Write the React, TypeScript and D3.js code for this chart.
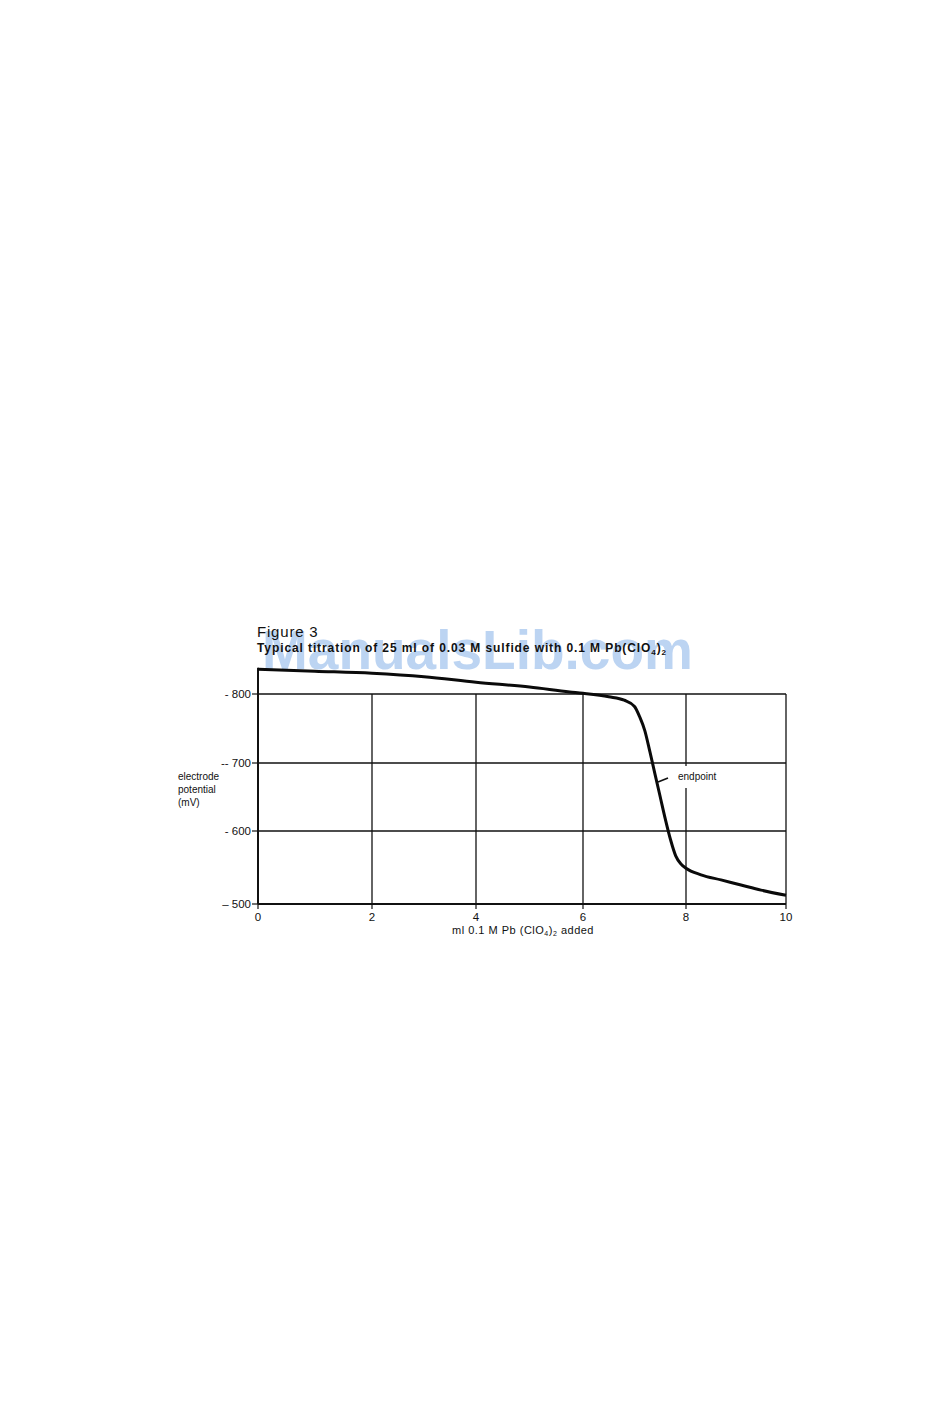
import React from "react";
import * as d3 from "d3";

const xTicks = [0, 2, 4, 6, 8, 10];
const yTicks = [-800, -700, -600, -500];
const yTickLabels = ["- 800", "-- 700", "- 600", "– 500"];

const volume = [0, 1, 2, 3, 4, 5, 5.75, 6, 6.5, 6.8, 7.0, 7.1, 7.2, 7.3, 7.4, 7.5, 7.6, 7.7, 7.8, 7.9, 8.0, 8.3, 8.7, 9.1, 9.5, 10];
const potential = [-836, -833, -830, -825, -817, -810, -803, -801, -796, -791, -782, -767, -747, -716, -683, -650, -617, -588, -566, -555, -549, -540, -533, -526, -519, -512];

const titleText = "Figure 3";
const subtitleText = "Typical titration of 25 ml of 0.03 M sulfide with 0.1 M Pb(ClO";
const xLabel = "ml 0.1 M Pb (ClO";
const yLabelLines = ["electrode", "potential", "(mV)"];
const annotation = "endpoint";
const watermark = "ManualsLib.com";

export default function App() {
  // scanned chart: tick spacing is slightly uneven, so use piecewise scales
  const x = d3.scaleLinear().domain(xTicks).range([258, 372, 476, 583, 686, 786]);
  const y = d3.scaleLinear().domain(yTicks).range([694, 763, 831, 904]);
  const x0 = x(0), x1 = x(10);
  const yTop = y(-800), yBot = y(-500);

  const line = d3
    .line<number>()
    .x((_, i) => x(volume[i]))
    .y((d) => y(d))
    .curve(d3.curveMonotoneX);

  const font = "'Liberation Sans', Arial, Helvetica, sans-serif";

  return (
    <svg
      width={950}
      height={1409}
      style={{ position: "absolute", left: 0, top: 0, background: "#fff" }}
      fontFamily={font}
    >
      <rect x={0} y={0} width={950} height={1409} fill="#fff" />
      {/* watermark */}
      <text x={262} y={669} fontSize={55} fontWeight="bold" fill="#bcd4f2">
        {watermark}
      </text>
      {/* titles */}
      <text x={257} y={637} fontSize={15} fill="#111" letterSpacing={0.8}>
        {titleText}
      </text>
      <text x={257} y={652} fontSize={12} fontWeight="bold" fill="#111" letterSpacing={0.9}>
        {subtitleText}
        <tspan fontSize={8} dy={3}>4</tspan>
        <tspan dy={-3}>)</tspan>
        <tspan fontSize={8} dy={3}>2</tspan>
      </text>

      {/* horizontal grid */}
      {yTicks.map((t) => (
        <line
          key={"h" + t}
          x1={x0}
          x2={x1}
          y1={y(t)}
          y2={y(t)}
          stroke="#111"
          strokeWidth={t === -500 ? 2.2 : 1.5}
        />
      ))}
      {/* vertical grid */}
      {xTicks.filter((t) => t > 0).map((t) => (
        <line
          key={"v" + t}
          x1={x(t)}
          x2={x(t)}
          y1={yTop}
          y2={yBot}
          stroke="#111"
          strokeWidth={1.3}
        />
      ))}
      {/* left axis */}
      <line x1={x0} x2={x0} y1={y(-838)} y2={yBot} stroke="#111" strokeWidth={2} />

      {/* y ticks and labels */}
      {yTicks.map((t, i) => (
        <g key={"yt" + t}>
          <line x1={x0 - 6} x2={x0} y1={y(t)} y2={y(t)} stroke="#111" strokeWidth={1.2} />
          <text x={x0 - 7} y={y(t) + 4} fontSize={11.5} textAnchor="end" fill="#111">
            {yTickLabels[i]}
          </text>
        </g>
      ))}
      {/* x ticks and labels */}
      {xTicks.map((t) => (
        <g key={"xt" + t}>
          <line x1={x(t)} x2={x(t)} y1={yBot} y2={yBot + 5} stroke="#111" strokeWidth={1.2} />
          <text x={x(t)} y={yBot + 17} fontSize={11.5} textAnchor="middle" fill="#111">
            {t}
          </text>
        </g>
      ))}
      <text x={523} y={934} fontSize={11} textAnchor="middle" fill="#111" letterSpacing={0.5}>
        {xLabel}
        <tspan fontSize={7} dy={2}>4</tspan>
        <tspan dy={-2}>)</tspan>
        <tspan fontSize={7} dy={2}>2</tspan>
        <tspan dy={-2}> added</tspan>
      </text>

      {/* y label */}
      {yLabelLines.map((s, i) => (
        <text key={s} x={178} y={780 + i * 13} fontSize={10} fill="#111">
          {s}
        </text>
      ))}

      {/* annotation */}
      <rect x={677} y={766} width={46} height={22} fill="#fff" />
      <text x={678} y={780} fontSize={10} fill="#111">
        {annotation}
      </text>
      <line x1={658} y1={782} x2={668} y2={778} stroke="#111" strokeWidth={1.6} />

      {/* curve */}
      <path d={line(potential) || ""} fill="none" stroke="#0a0a0a" strokeWidth={3} strokeLinejoin="round" />
    </svg>
  );
}
